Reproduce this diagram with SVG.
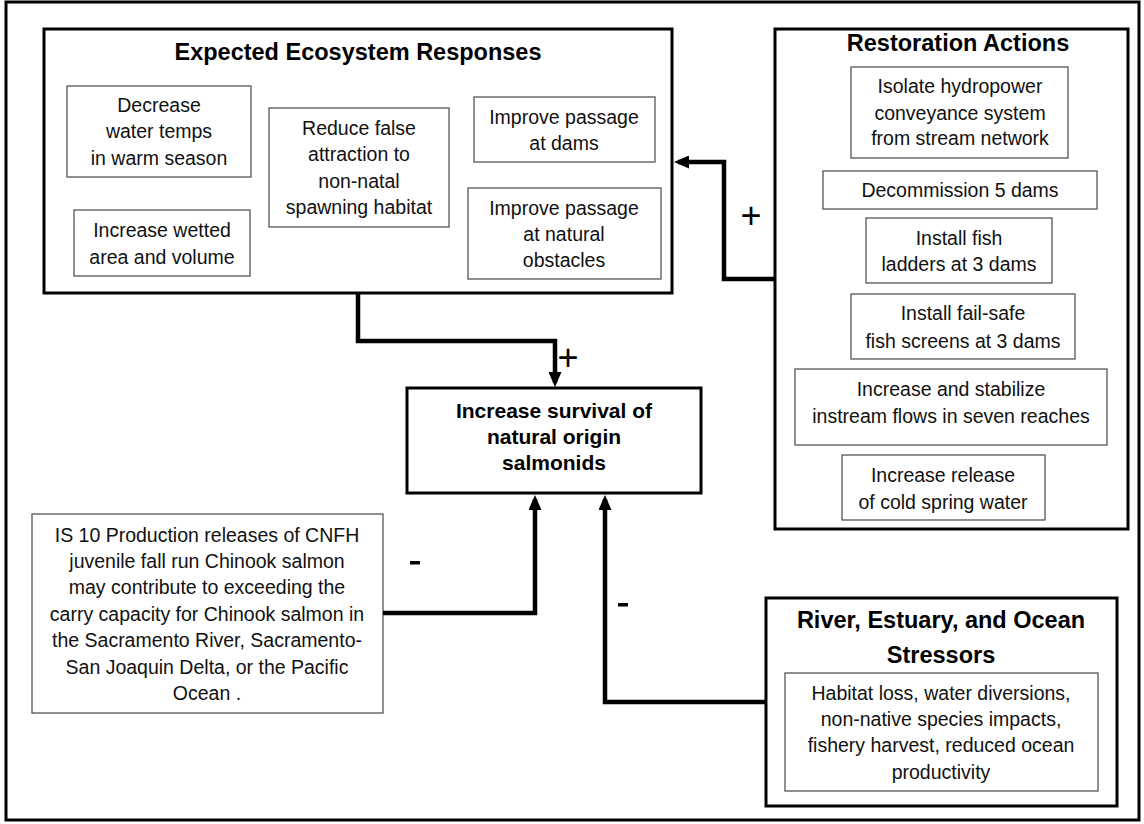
<svg xmlns="http://www.w3.org/2000/svg" width="1144" height="824" viewBox="0 0 1144 824">
<defs>
<style>
.big{fill:#fff;stroke:#000;stroke-width:3}
.sm{fill:#fff;stroke:#555;stroke-width:1.3}
.t{font-family:"Liberation Sans",Arial,sans-serif;font-size:19.5px;fill:#111;text-anchor:middle;dominant-baseline:central}
.h{font-family:"Liberation Sans",Arial,sans-serif;font-size:23.5px;font-weight:bold;fill:#000;text-anchor:middle;dominant-baseline:central}
.hc{font-family:"Liberation Sans",Arial,sans-serif;font-size:21px;font-weight:bold;fill:#000;text-anchor:middle;dominant-baseline:central}
.c{fill:none;stroke:#000;stroke-width:4.5}
.sign{font-family:"Liberation Sans",Arial,sans-serif;font-size:36px;fill:#000;text-anchor:middle;dominant-baseline:central}
</style>
<marker id="ah" viewBox="0 0 15 13" refX="11" refY="6.5" markerWidth="15" markerHeight="13" orient="auto" markerUnits="userSpaceOnUse">
<path d="M0,0 L15,6.5 L0,13 z" fill="#000"/>
</marker>
</defs>
<rect x="0" y="0" width="1144" height="824" fill="#fff"/>
<rect x="6" y="2" width="1133" height="818" fill="none" stroke="#000" stroke-width="3"/>

<g id="expected-ecosystem-responses">
<rect class="big" x="44" y="29" width="628" height="264"/>
<text class="h" x="358" y="52">Expected Ecosystem Responses</text>
</g>
<g id="decrease-water-temps">
<rect class="sm" x="67" y="86" width="184" height="91"/>
<text class="t" x="159" y="105">Decrease</text>
<text class="t" x="159" y="131">water temps</text>
<text class="t" x="159" y="158">in warm season</text>
</g>
<g id="reduce-false-attraction">
<rect class="sm" x="269" y="108" width="180" height="119"/>
<text class="t" x="359" y="128">Reduce false</text>
<text class="t" x="359" y="154">attraction to</text>
<text class="t" x="359" y="181">non-natal</text>
<text class="t" x="359" y="207">spawning habitat</text>
</g>
<g id="increase-wetted-area">
<rect class="sm" x="74" y="210" width="176" height="66"/>
<text class="t" x="162" y="230">Increase wetted</text>
<text class="t" x="162" y="257">area and volume</text>
</g>
<g id="improve-passage-dams">
<rect class="sm" x="474" y="97" width="181" height="65"/>
<text class="t" x="564" y="117">Improve passage</text>
<text class="t" x="564" y="143">at dams</text>
</g>
<g id="improve-passage-natural">
<rect class="sm" x="468" y="188" width="193" height="91"/>
<text class="t" x="564" y="208">Improve passage</text>
<text class="t" x="564" y="234">at natural</text>
<text class="t" x="564" y="260">obstacles</text>
</g>

<g id="restoration-actions">
<rect class="big" x="775" y="29" width="353" height="500"/>
<text class="h" x="958" y="43">Restoration Actions</text>
</g>
<g id="isolate-hydropower">
<rect class="sm" x="851" y="67" width="217" height="91"/>
<text class="t" x="960" y="86">Isolate hydropower</text>
<text class="t" x="960" y="113">conveyance  system</text>
<text class="t" x="960" y="138">from stream network</text>
</g>
<g id="decommission">
<rect class="sm" x="823" y="171" width="274" height="38"/>
<text class="t" x="960" y="190">Decommission  5 dams</text>
</g>
<g id="fish-ladders">
<rect class="sm" x="866" y="218" width="186" height="65"/>
<text class="t" x="959" y="238">Install fish</text>
<text class="t" x="959" y="264">ladders at 3 dams</text>
</g>
<g id="fish-screens">
<rect class="sm" x="851" y="294" width="224" height="65"/>
<text class="t" x="963" y="313">Install fail-safe</text>
<text class="t" x="963" y="341">fish screens at 3 dams</text>
</g>
<g id="instream-flows">
<rect class="sm" x="795" y="369" width="312" height="76"/>
<text class="t" x="951" y="389">Increase and stabilize</text>
<text class="t" x="951" y="416">instream flows in seven  reaches</text>
</g>
<g id="cold-spring-water">
<rect class="sm" x="842" y="455" width="203" height="65"/>
<text class="t" x="943" y="475">Increase release</text>
<text class="t" x="943" y="502">of cold spring water</text>
</g>

<g id="increase-survival">
<rect class="big" x="407" y="388" width="294" height="105"/>
<text class="hc" x="554" y="410">Increase  survival of</text>
<text class="hc" x="554" y="436">natural origin</text>
<text class="hc" x="554" y="462">salmonids</text>
</g>

<g id="is10-production">
<rect class="sm" x="32" y="514" width="351" height="199"/>
<text class="t" x="207" y="535">IS 10 Production releases of CNFH</text>
<text class="t" x="207" y="561">juvenile fall run Chinook salmon</text>
<text class="t" x="207" y="587">may contribute to exceeding the</text>
<text class="t" x="207" y="614">carry capacity for Chinook salmon in</text>
<text class="t" x="207" y="640">the Sacramento River, Sacramento-</text>
<text class="t" x="207" y="667">San Joaquin Delta, or the Pacific</text>
<text class="t" x="207" y="693">Ocean .</text>
</g>

<g id="stressors">
<rect class="big" x="766" y="598" width="351" height="208"/>
<text class="h" x="941" y="620">River, Estuary, and Ocean</text>
<text class="h" x="941" y="655">Stressors</text>
<rect class="sm" x="785" y="673" width="313" height="118"/>
<text class="t" x="941" y="693">Habitat loss, water diversions,</text>
<text class="t" x="941" y="719">non-native species impacts,</text>
<text class="t" x="941" y="745">fishery harvest, reduced ocean</text>
<text class="t" x="941" y="772">productivity</text>
</g>

<g id="connectors">
<path class="c" d="M358,293 V341 H555 V383" marker-end="url(#ah)"/>
<path class="c" d="M775,279 H724 V162 H678" marker-end="url(#ah)"/>
<path class="c" d="M383,613 H535 V499" marker-end="url(#ah)"/>
<path class="c" d="M766,702 H605 V499" marker-end="url(#ah)"/>
<text class="sign" x="568" y="357">+</text>
<text class="sign" x="751" y="215">+</text>
<rect x="410" y="561" width="10" height="3.5" fill="#000"/>
<rect x="618" y="603" width="10" height="3.5" fill="#000"/>
</g>
</svg>
